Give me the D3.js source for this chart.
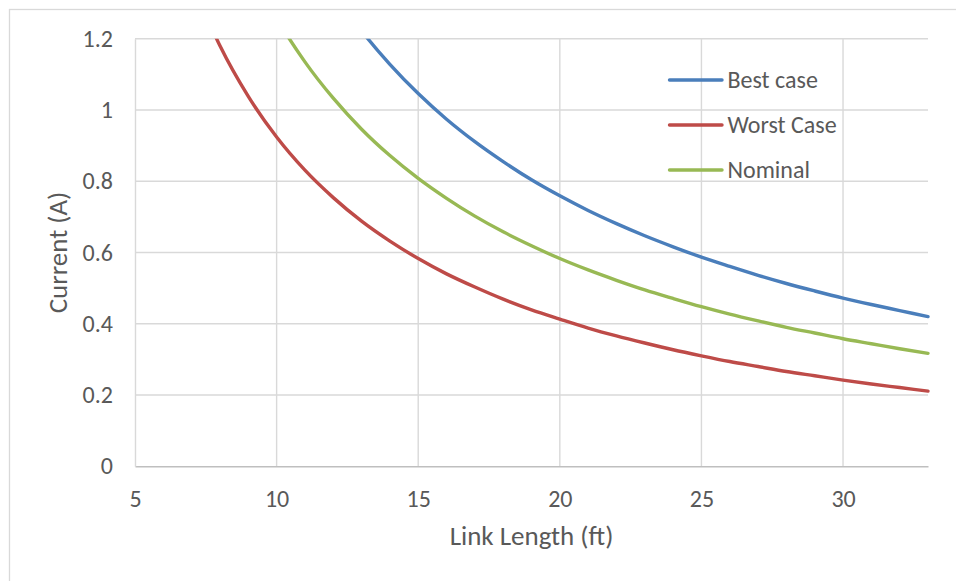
<!DOCTYPE html>
<html>
<head>
<meta charset="utf-8">
<script src="https://cdn.jsdelivr.net/npm/d3@7"></script>
<style>
  html, body { margin: 0; padding: 0; background: #fff; }
  svg { display: block; }
  text { font-family: Calibri, Carlito, Lato, sans-serif; fill: #595959; }
</style>
</head>
<body>
<svg id="chart" width="956" height="581"></svg>
<script>
// ---- data ----
const linkLength = [7, 8, 9, 10, 11, 12, 13, 14, 15, 16, 17, 18, 19, 20,
                    21, 22, 23, 24, 25, 26, 27, 28, 29, 30, 31, 32, 33];
const bestCase = [null, null, null, null, null, 1.332, 1.222, 1.128, 1.046, 0.974, 0.911, 0.855, 0.804, 0.759,
                  0.718, 0.681, 0.647, 0.616, 0.587, 0.561, 0.536, 0.513, 0.492, 0.472, 0.454, 0.437, 0.420];
const worstCase = [1.362, 1.180, 1.038, 0.924, 0.831, 0.754, 0.688, 0.632, 0.583, 0.540, 0.503, 0.469, 0.439, 0.413,
                   0.388, 0.366, 0.346, 0.327, 0.310, 0.294, 0.280, 0.266, 0.254, 0.242, 0.231, 0.221, 0.211];
const nominal = [null, null, 1.408, 1.258, 1.135, 1.033, 0.946, 0.872, 0.808, 0.752, 0.702, 0.658, 0.619, 0.583,
                 0.551, 0.522, 0.495, 0.471, 0.448, 0.427, 0.408, 0.390, 0.374, 0.358, 0.344, 0.330, 0.317];
const seriesNames = ["Best case", "Worst Case", "Nominal"];
const xTicks = [5, 10, 15, 20, 25, 30];
const yTicks = [0, 0.2, 0.4, 0.6, 0.8, 1, 1.2];
const xTitle = "Link Length (ft)";
const yTitle = "Current (A)";

// ---- layout ----
const svg = d3.select("#chart");
const pLeft = 135, pRight = 928, pTop = 38.7, pBottom = 466.3;
const colors = ["#4a7ebb", "#be4b48", "#98b954"];
const seriesValues = [bestCase, worstCase, nominal];

const x = d3.scaleLinear().domain([5, 33]).range([pLeft, pRight]);
const y = d3.scaleLinear().domain([0, 1.2]).range([pBottom, pTop]);

// chart area border
svg.append("rect").attr("x", 9.5).attr("y", 9.5).attr("width", 1000).attr("height", 1000)
  .attr("fill", "none").attr("stroke", "#d9d9d9").attr("stroke-width", 1.3);

// gridlines
svg.append("g").selectAll("line").data(yTicks.filter(d => d > 0)).join("line")
  .attr("x1", pLeft).attr("x2", pRight)
  .attr("y1", d => y(d)).attr("y2", d => y(d))
  .attr("stroke", "#d9d9d9").attr("stroke-width", 1.4);
svg.append("g").selectAll("line").data(xTicks.filter(d => d > 5)).join("line")
  .attr("x1", d => x(d)).attr("x2", d => x(d))
  .attr("y1", pTop).attr("y2", pBottom)
  .attr("stroke", "#d9d9d9").attr("stroke-width", 1.4);

// axes
const xAxis = svg.append("g").attr("transform", `translate(0,${pBottom})`)
  .call(d3.axisBottom(x).tickValues(xTicks).tickSize(0).tickPadding(24).tickFormat(d3.format("d")));
xAxis.select(".domain").attr("stroke", "#bfbfbf").attr("stroke-width", 1.4);
xAxis.selectAll("text").attr("font-size", "24px").attr("fill", "#595959")
  .style("font-family", "Calibri, Carlito, Lato, sans-serif");

const yAxis = svg.append("g").attr("transform", `translate(${pLeft},0)`)
  .call(d3.axisLeft(y).tickValues(yTicks).tickSize(0).tickPadding(22).tickFormat(d => String(d)));
yAxis.select(".domain").attr("stroke", "#d9d9d9").attr("stroke-width", 1.4);
yAxis.selectAll("text").attr("font-size", "24px").attr("fill", "#595959")
  .style("font-family", "Calibri, Carlito, Lato, sans-serif");

// clip
svg.append("clipPath").attr("id", "plotclip").append("rect")
  .attr("x", pLeft).attr("y", pTop).attr("width", pRight - pLeft + 3).attr("height", pBottom - pTop);

const line = d3.line()
  .defined(d => d[1] != null)
  .x(d => x(d[0])).y(d => y(d[1]))
  .curve(d3.curveMonotoneX);

const plot = svg.append("g").attr("clip-path", "url(#plotclip)");
seriesValues.forEach((vals, i) => {
  plot.append("path")
    .datum(linkLength.map((L, j) => [L, vals[j]]))
    .attr("fill", "none")
    .attr("stroke", colors[i])
    .attr("stroke-width", 3.4)
    .attr("stroke-linecap", "round")
    .attr("d", line);
});

// legend
const legY = [80, 125, 170];
const leg = svg.append("g");
seriesNames.forEach((name, i) => {
  leg.append("line").attr("x1", 669.5).attr("x2", 722).attr("y1", legY[i]).attr("y2", legY[i])
    .attr("stroke", colors[i]).attr("stroke-width", 3.4).attr("stroke-linecap", "round");
  leg.append("text").attr("x", 727.5).attr("y", legY[i]).attr("dy", "0.35em")
    .attr("font-size", "24px").text(name);
});

// axis titles
svg.append("text").attr("x", (pLeft + pRight) / 2).attr("y", 545)
  .attr("text-anchor", "middle").attr("font-size", "27px").text(xTitle);
svg.append("text")
  .attr("transform", `translate(67,${(pTop + pBottom) / 2}) rotate(-90)`)
  .attr("text-anchor", "middle").attr("font-size", "27px").text(yTitle);
</script>
</body>
</html>
